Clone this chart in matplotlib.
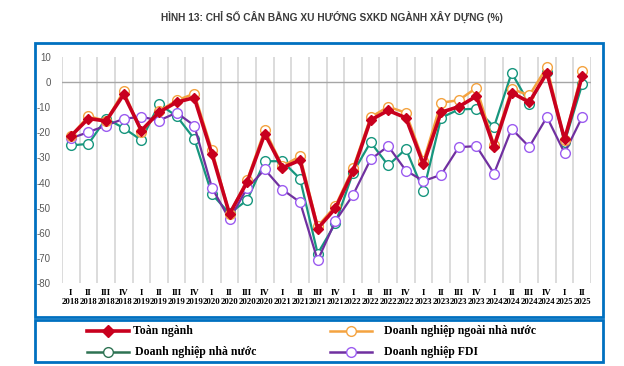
import matplotlib
matplotlib.use("Agg")
import matplotlib.pyplot as plt
from matplotlib.lines import Line2D
from matplotlib.patches import Rectangle

quarters = ["I", "II", "III", "IV"] * 7 + ["I", "II"]
years = [str(y) for y in range(2018, 2025) for _ in range(4)] + ["2025", "2025"]

toan_nganh = [-21.5, -14.5, -15.5, -4.9, -19.3, -12, -8, -6.2, -28.5, -52.5,
              -39.8, -20.6, -34.1, -31.1, -58.3, -50.3, -35.5, -15.1, -11.3, -14.2,
              -32.8, -12, -9.8, -5.6, -25.8, -4.2, -8, 3.7, -22.8, 2.4]
ngoai_nha_nuoc = [-21.5, -13.5, -15.5, -3.6, -20, -11.5, -7.3, -4.6, -27, -52.5,
                  -39, -19.1, -33.5, -29.5, -57.4, -49.4, -34.4, -14, -9.8, -12.2,
                  -31.5, -8.2, -7.2, -2.3, -25, -2.7, -5.3, 6, -23, 4.4]
nha_nuoc = [-25.2, -24.6, -14.5, -18.3, -23.1, -8.8, -13.5, -22.6, -44.6, -52.3,
            -47, -31.5, -31.5, -38.5, -68.3, -56.3, -36.1, -23.9, -33.2, -26.6,
            -43.4, -14.2, -10.9, -10.6, -17.8, 3.7, -8.6, 4, -23.9, -0.9]
fdi = [-22.4, -19.9, -17.3, -14.6, -13.8, -15.3, -12.2, -17.3, -42, -54.7,
       -42.2, -34.8, -42.8, -47.8, -71, -55.4, -45, -30.8, -25.5, -35.2,
       -39.4, -36.9, -25.9, -25.5, -36.4, -18.6, -25.8, -13.9, -28.2, -13.9]

RED = "#C8001E"
ORANGE = "#F4A340"
TEAL = "#17967E"
PURPLE = "#7030A0"
PURPLE_EDGE = "#9C5CF0"
BLUE = "#0070C0"

W, H = 624, 366
fig = plt.figure(figsize=(W / 100, H / 100), dpi=100, facecolor="white")

# title
fig.text(332 / W, 1 - 17 / H, "HÌNH 13: CHỈ SỐ CÂN BẰNG XU HƯỚNG SXKD NGÀNH XÂY DỰNG (%)",
         ha="center", va="center", fontsize=7.3, fontweight="bold", color="#3A3A3A",
         family="Liberation Sans")

# frames
fig.add_artist(Rectangle((35 / W, 1 - 317 / H), 568 / W, 274 / H, transform=fig.transFigure,
                         fill=False, edgecolor=BLUE, linewidth=2))
fig.add_artist(Rectangle((35 / W, 1 - 362 / H), 568 / W, 42 / H, transform=fig.transFigure,
                         fill=False, edgecolor=BLUE, linewidth=2))

ax = fig.add_axes([62 / W, 1 - 283 / H, 529 / W, 226 / H])
x = list(range(len(toan_nganh)))

for i in range(len(x) + 1):
    ax.axvline(i - 0.5, color="#D9D9D9", linewidth=1.3, zorder=0)
ax.axhline(0, color="#A6A6A6", linewidth=1, zorder=0)

ax.plot(x, nha_nuoc, color=TEAL, linewidth=1.6, marker="o", markersize=7,
        markerfacecolor="white", markeredgecolor=TEAL, markeredgewidth=1, zorder=2)
ax.plot(x, fdi, color=PURPLE, linewidth=1.6, marker="o", markersize=7,
        markerfacecolor="white", markeredgecolor=PURPLE_EDGE, markeredgewidth=1, zorder=3)
ax.plot(x, ngoai_nha_nuoc, color=ORANGE, linewidth=1.8, marker="o", markersize=7,
        markerfacecolor="white", markeredgecolor=ORANGE, markeredgewidth=1, zorder=4)
ax.plot(x, toan_nganh, color=RED, linewidth=2.6, marker="D", markersize=5,
        markerfacecolor=RED, markeredgecolor=RED, zorder=5)

ax.set_xlim(-0.5, len(x) - 0.5)
ax.set_ylim(-80, 10)
ax.set_yticks(range(-80, 11, 10))
ax.set_yticklabels([str(v) for v in range(-80, 11, 10)], fontsize=7, color="#595959",
                   family="Liberation Sans")
ax.set_xticks(x)
ax.set_xticklabels([q + "\n" + y for q, y in zip(quarters, years)], fontsize=6.3,
                   fontweight="bold", family="Liberation Serif", linespacing=1.25)
ax.tick_params(axis="both", length=0)
ax.tick_params(axis="x", pad=4)
ax.tick_params(axis="y", pad=8)
for s in ax.spines.values():
    s.set_visible(False)

# legend
entries = [
    (87, 331, RED, "D", RED, RED, 2.6, "Toàn ngành", 133),
    (330, 331, ORANGE, "o", "white", ORANGE, 1.8, "Doanh nghiệp ngoài nhà nước", 384),
    (87, 352, "#2E7353", "o", "white", "#2E7353", 1.8, "Doanh nghiệp nhà nước", 135),
    (330, 352, PURPLE, "o", "white", PURPLE_EDGE, 1.8, "Doanh nghiệp FDI", 384),
]
for x0, yy, col, mk, mfc, mec, lw, label, tx in entries:
    fig.add_artist(Line2D([x0 / W, (x0 + 42) / W], [1 - yy / H, 1 - yy / H],
                          transform=fig.transFigure, color=col, linewidth=lw))
    fig.add_artist(Line2D([(x0 + 21) / W], [1 - yy / H], transform=fig.transFigure,
                          marker=mk, markersize=7 if mk == "o" else 6,
                          markerfacecolor=mfc, markeredgecolor=mec, linestyle="none"))
    fig.text(tx / W, 1 - yy / H, label, ha="left", va="center", fontsize=8.5,
             fontweight="bold", family="Liberation Serif", color="black")

fig.savefig("out.png", dpi=100, facecolor="white")
